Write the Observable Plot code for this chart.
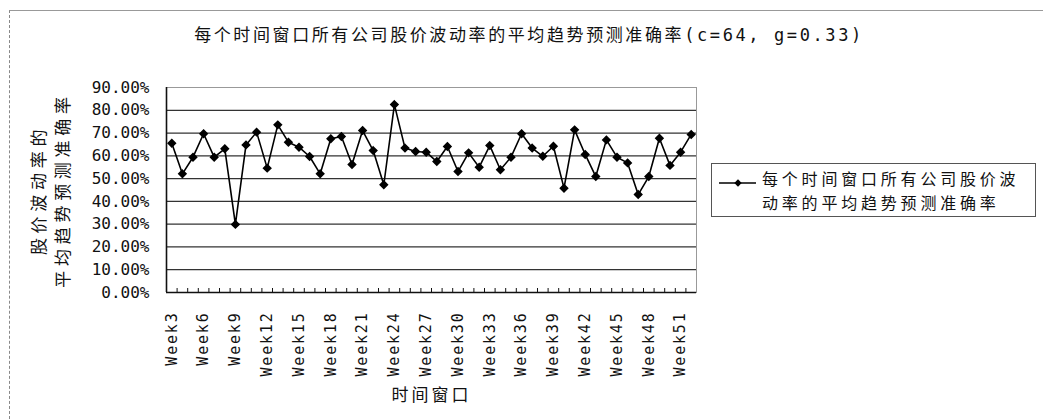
<!DOCTYPE html>
<html>
<head>
<meta charset="utf-8">
<script src="https://cdn.jsdelivr.net/npm/d3@7"></script>
<script src="https://cdn.jsdelivr.net/npm/@observablehq/plot@0.6"></script>
<style>
  html, body { margin: 0; padding: 0; background: #fff; }
  #page { position: relative; width: 1043px; height: 419px; overflow: hidden; background: #fff; }
  #outer { position: absolute; left: 9px; top: 10px; right: -5px; bottom: -5px;
           border-left: 1px dashed #888; border-top: 1px solid #999; }
  #title { position: absolute; left: 529px; top: 25px; transform: translateX(-50%); white-space: nowrap;
           font-family: "DejaVu Sans Mono", "Noto Sans CJK SC", sans-serif; font-size: 17px; line-height: 21px;
           letter-spacing: 2.6px; color: #111; }
  #legend { position: absolute; left: 711px; top: 163px; width: 325px; height: 54px; box-sizing: border-box;
            border: 1px solid #555; font-family: "Noto Sans CJK SC", sans-serif; font-size: 16px;
            letter-spacing: 3.8px; color: #111; }
  #legend svg { position: absolute; left: 6px; top: 12px; }
  #legend .t { position: absolute; left: 50px; top: 3px; white-space: nowrap; line-height: 23.5px; }
  #chart { position: absolute; left: 0; top: 0; }
</style>
</head>
<body>
<div id="page">
  <div id="outer"></div>
  <div id="chart"></div>
  <div id="title"></div>
  <div id="legend"></div>
</div>
<script>
// ---- data ----
const titleText = "每个时间窗口所有公司股价波动率的平均趋势预测准确率(c=64, g=0.33)";
const seriesName = "每个时间窗口所有公司股价波动率的平均趋势预测准确率";
const xLabel = "时间窗口";
const yLabel = "股价波动率的\n平均趋势预测准确率";
const weeks = ["Week3","Week4","Week5","Week6","Week7","Week8","Week9","Week10","Week11","Week12",
  "Week13","Week14","Week15","Week16","Week17","Week18","Week19","Week20","Week21","Week22",
  "Week23","Week24","Week25","Week26","Week27","Week28","Week29","Week30","Week31","Week32",
  "Week33","Week34","Week35","Week36","Week37","Week38","Week39","Week40","Week41","Week42",
  "Week43","Week44","Week45","Week46","Week47","Week48","Week49","Week50","Week51","Week52"];
const accuracy = [0.655, 0.521, 0.594, 0.697, 0.594, 0.631, 0.299, 0.648, 0.704, 0.546,
  0.736, 0.660, 0.638, 0.597, 0.521, 0.675, 0.685, 0.562, 0.711, 0.623,
  0.473, 0.825, 0.634, 0.619, 0.616, 0.575, 0.641, 0.531, 0.613, 0.550,
  0.645, 0.539, 0.594, 0.697, 0.634, 0.598, 0.642, 0.458, 0.714, 0.606,
  0.509, 0.670, 0.594, 0.569, 0.430, 0.509, 0.677, 0.558, 0.616, 0.694];
const xTickLabels = ["Week3","Week6","Week9","Week12","Week15","Week18","Week21","Week24","Week27",
  "Week30","Week33","Week36","Week39","Week42","Week45","Week48","Week51"];
const yTicks = [0, 0.1, 0.2, 0.3, 0.4, 0.5, 0.6, 0.7, 0.8, 0.9];

const data = weeks.map((w, i) => ({week: w, acc: accuracy[i]}));

// ---- layout ----
const W = 1043, H = 419;
const mL = 166, mR = 347, mT = 87, mB = 127;
const step = (W - mL - mR) / weeks.length;
const mono = "DejaVu Sans Mono, monospace";
const cjk = "Noto Sans CJK SC, sans-serif";

const chart = Plot.plot({
  width: W, height: H,
  marginLeft: mL, marginRight: mR, marginTop: mT, marginBottom: mB,
  style: {background: "transparent", color: "#111"},
  x: {type: "point", domain: weeks, padding: 0.5, round: false},
  y: {domain: [0, 0.9]},
  marks: [
    Plot.gridY(yTicks, {stroke: "#333", strokeOpacity: 1, strokeWidth: 1.2}),
    Plot.frame({stroke: "#999"}),
    Plot.ruleY([0], {stroke: "#111", strokeWidth: 1.6}),
    Plot.ruleX([weeks[0]], {dx: -step / 2, stroke: "#111", strokeWidth: 1.6}),
    Plot.axisX(weeks, {tickSize: -4, text: null, label: null, dx: -step / 2, stroke: "#111"}),
    Plot.axisX(xTickLabels, {tickRotate: -90, tickSize: 0, tickPadding: 19, label: null,
      fontSize: 15, fontFamily: mono, fill: "#111"}),
    Plot.axisY(yTicks, {tickSize: 0, tickPadding: 17, label: null, tickFormat: d3.format(".2%"),
      fontSize: 16, fontFamily: mono, fill: "#111"}),
    Plot.line(data, {x: "week", y: "acc", stroke: "#000", strokeWidth: 1.6}),
    Plot.dot(data, {x: "week", y: "acc", symbol: "diamond2", r: 3.3, fill: "#000", stroke: "#000"}),
    Plot.text([yLabel], {frameAnchor: "left", text: d => d, rotate: -90, dx: -117, lineHeight: 1.4,
      textAnchor: "middle", lineAnchor: "middle",
      fontSize: 17, fontFamily: cjk, fill: "#111"}),
    Plot.text([xLabel], {frameAnchor: "bottom", text: d => d, dy: 103, textAnchor: "middle",
      lineAnchor: "middle", fontSize: 17, fontFamily: cjk, fill: "#111"})
  ]
});
// letter spacing (not a Plot option) applied to the rendered texts
d3.select(chart).selectAll("text").each(function () {
  const t = this.textContent;
  if (t.startsWith("Week")) this.setAttribute("letter-spacing", "1.8");
  else if (t.includes("股价")) this.setAttribute("letter-spacing", "4.7");
  else if (t === xLabel) this.setAttribute("letter-spacing", "3");
});
document.getElementById("chart").appendChild(chart);
document.getElementById("title").textContent = titleText;

// legend
const lg = document.getElementById("legend");
lg.innerHTML = `<svg width="40" height="14"><line x1="1" y1="7" x2="38" y2="7" stroke="#000" stroke-width="1.6"/>
  <path d="M20,3.3L23.7,7L20,10.7L16.3,7Z" fill="#000"/></svg>
  <div class="t">${seriesName.slice(0, 13)}<br>${seriesName.slice(13)}</div>`;
</script>
</body>
</html>
